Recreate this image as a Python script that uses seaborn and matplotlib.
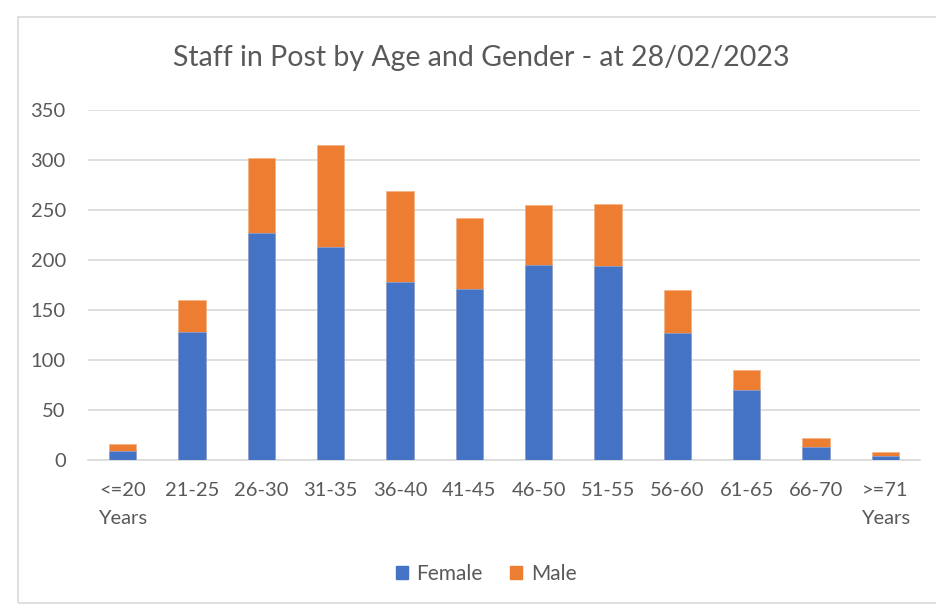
import numpy as np
import pandas as pd
import matplotlib.pyplot as plt
import seaborn as sns
from matplotlib.patches import Rectangle

# Data
age_groups = ['<=20\nYears', '21-25', '26-30', '31-35', '36-40', '41-45',
              '46-50', '51-55', '56-60', '61-65', '66-70', '>=71\nYears']
female = [9, 128, 227, 213, 178, 171, 195, 194, 127, 70, 13, 4]
male = [7, 32, 75, 102, 91, 71, 60, 62, 43, 20, 9, 4]

df = pd.DataFrame({'Age': age_groups, 'Female': female, 'Male': male})
df['Total'] = df['Female'] + df['Male']

blue = '#4472c4'
orange = '#ed7d31'
grey_txt = '#595959'

sns.set_style('white')
plt.rcParams['font.family'] = ['Lato', 'DejaVu Sans']

fig = plt.figure(figsize=(9.37, 6.06), dpi=100)
ax = fig.add_axes([88 / 937, 1 - 460 / 606, 832 / 937, 350 / 606])

# chart frame
fig.patches.append(Rectangle((18 / 937, 1 - 603 / 606), 1.0, 586 / 606,
                             transform=fig.transFigure, fill=False,
                             edgecolor='#d9d9d9', linewidth=1.2, zorder=-1))

# stacked bars: total (orange) behind, female (blue) in front
sns.barplot(data=df, x='Age', y='Total', color=orange, width=0.39,
            saturation=1, ax=ax, edgecolor='#f4b183', linewidth=0.5, zorder=2)
sns.barplot(data=df, x='Age', y='Female', color=blue, width=0.39,
            saturation=1, ax=ax, edgecolor='#8faadc', linewidth=0.5, zorder=3)

ax.set_ylim(0, 350)
ax.set_yticks(np.arange(0, 351, 50))
ax.yaxis.grid(True, color='#d9d9d9', linewidth=1.2)
ax.set_axisbelow(True)
for s in ['top', 'right', 'left']:
    ax.spines[s].set_visible(False)
ax.spines['bottom'].set_color('#d9d9d9')
ax.spines['bottom'].set_linewidth(1.2)
ax.tick_params(axis='both', length=0, labelsize=14.5, colors=grey_txt)
ax.tick_params(axis='x', pad=16)
ax.tick_params(axis='y', pad=16)
for lbl in ax.get_xticklabels():
    lbl.set_linespacing(1.75)
ax.set_xlabel('')
ax.set_ylabel('')

fig.text(481 / 937, 1 - 58 / 606, 'Staff in Post by Age and Gender - at 28/02/2023',
         ha='center', va='center', fontsize=20.5, color=grey_txt)

handles = [Rectangle((0, 0), 1, 1, color=blue), Rectangle((0, 0), 1, 1, color=orange)]
fig.legend(handles, ['Female', 'Male'], loc='center', bbox_to_anchor=(486 / 937, 1 - 574 / 606),
           ncol=2, frameon=False, fontsize=15, handlelength=0.6, handleheight=0.6,
           handletextpad=0.4, columnspacing=1.3, labelcolor=grey_txt)

fig.savefig('out.png', dpi=100, facecolor='white')
